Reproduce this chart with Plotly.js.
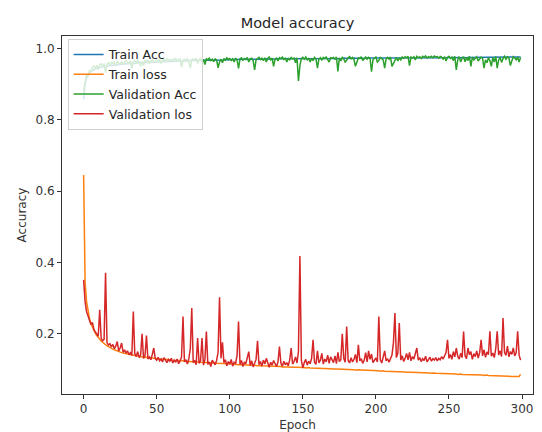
<!DOCTYPE html>
<html>
<head>
<meta charset="utf-8">
<script src="https://cdn.plot.ly/plotly-3.0.1.min.js"></script>
<style>html,body{margin:0;padding:0;background:#fff;}#chart{width:542px;height:432px;}</style>
</head>
<body>
<div id="chart"></div>
<script>
const chartTitle = "Model accuracy";
const xTitle = "Epoch";
const yTitle = "Accuracy";
const seriesNames = ["Train Acc", "Train loss", "Validation Acc", "Validation los"];
const xTickVals = [0, 50, 100, 150, 200, 250, 300];
const yTickVals = [0.2, 0.4, 0.6, 0.8, 1.0];

const trainAcc = [
0.858,0.900,0.916,0.925,0.931,0.935,0.938,0.941,0.943,0.945,
0.946,0.947,0.948,0.949,0.950,0.950,0.951,0.952,0.952,0.953,
0.953,0.954,0.954,0.955,0.955,0.955,0.956,0.956,0.957,0.957,
0.957,0.958,0.958,0.958,0.958,0.959,0.959,0.959,0.960,0.960,
0.960,0.960,0.960,0.961,0.961,0.961,0.961,0.962,0.962,0.962,
0.962,0.962,0.963,0.963,0.963,0.963,0.963,0.963,0.964,0.964,
0.964,0.964,0.964,0.964,0.965,0.965,0.965,0.965,0.965,0.965,
0.965,0.965,0.966,0.966,0.966,0.966,0.966,0.966,0.966,0.967,
0.967,0.967,0.966,0.967,0.967,0.967,0.967,0.968,0.967,0.968,
0.968,0.968,0.967,0.968,0.968,0.968,0.968,0.969,0.968,0.968,
0.969,0.969,0.968,0.969,0.969,0.969,0.969,0.969,0.970,0.969,
0.969,0.970,0.969,0.970,0.970,0.970,0.969,0.970,0.970,0.970,
0.970,0.970,0.970,0.970,0.970,0.971,0.970,0.970,0.971,0.970,
0.971,0.970,0.971,0.971,0.970,0.971,0.971,0.971,0.971,0.970,
0.971,0.971,0.971,0.970,0.971,0.971,0.971,0.972,0.971,0.971,
0.971,0.972,0.971,0.971,0.972,0.971,0.972,0.971,0.972,0.971,
0.972,0.971,0.972,0.972,0.971,0.972,0.972,0.972,0.971,0.972,
0.972,0.972,0.972,0.971,0.972,0.972,0.972,0.972,0.973,0.972,
0.972,0.972,0.973,0.972,0.972,0.973,0.972,0.972,0.972,0.973,
0.972,0.973,0.972,0.973,0.973,0.972,0.973,0.972,0.973,0.973,
0.973,0.972,0.973,0.973,0.973,0.973,0.972,0.973,0.973,0.973,
0.973,0.973,0.973,0.974,0.973,0.973,0.973,0.973,0.973,0.973,
0.974,0.973,0.973,0.974,0.973,0.974,0.973,0.974,0.973,0.974,
0.973,0.974,0.974,0.973,0.974,0.974,0.974,0.973,0.974,0.974,
0.974,0.974,0.974,0.974,0.973,0.974,0.974,0.974,0.974,0.975,
0.974,0.974,0.974,0.975,0.974,0.974,0.975,0.974,0.974,0.975,
0.974,0.975,0.974,0.975,0.975,0.974,0.975,0.975,0.974,0.975,
0.975,0.975,0.974,0.975,0.975,0.975,0.975,0.974,0.975,0.975,
0.975,0.975,0.975,0.975,0.976,0.975,0.975,0.975,0.975,0.976,
0.975,0.975,0.976,0.975,0.976,0.975,0.976,0.975,0.976,0.976
];

const trainLoss = [
0.645,0.345,0.290,0.262,0.243,0.229,0.218,0.209,0.201,0.195,
0.189,0.184,0.180,0.176,0.172,0.169,0.166,0.164,0.161,0.159,
0.157,0.155,0.153,0.152,0.150,0.149,0.147,0.146,0.145,0.144,
0.143,0.142,0.141,0.140,0.139,0.139,0.138,0.137,0.137,0.136,
0.135,0.135,0.134,0.134,0.133,0.133,0.132,0.132,0.131,0.131,
0.130,0.130,0.129,0.129,0.129,0.128,0.128,0.127,0.127,0.127,
0.126,0.126,0.126,0.125,0.125,0.125,0.124,0.124,0.124,0.123,
0.123,0.123,0.122,0.122,0.122,0.122,0.121,0.121,0.121,0.120,
0.120,0.120,0.120,0.119,0.119,0.119,0.119,0.118,0.118,0.118,
0.118,0.117,0.117,0.117,0.117,0.116,0.116,0.116,0.116,0.115,
0.115,0.116,0.115,0.114,0.115,0.114,0.113,0.114,0.113,0.113,
0.113,0.112,0.113,0.112,0.111,0.112,0.112,0.111,0.111,0.110,
0.111,0.111,0.110,0.110,0.109,0.110,0.110,0.109,0.109,0.109,
0.109,0.108,0.109,0.108,0.108,0.108,0.107,0.108,0.107,0.107,
0.107,0.107,0.106,0.107,0.106,0.106,0.106,0.105,0.106,0.106,
0.105,0.105,0.104,0.105,0.105,0.104,0.104,0.104,0.103,0.104,
0.104,0.103,0.103,0.103,0.102,0.103,0.103,0.102,0.102,0.102,
0.101,0.102,0.101,0.101,0.101,0.100,0.101,0.100,0.100,0.100,
0.100,0.099,0.100,0.099,0.099,0.099,0.098,0.099,0.098,0.099,
0.098,0.098,0.097,0.098,0.097,0.097,0.097,0.096,0.097,0.097,
0.096,0.096,0.096,0.095,0.096,0.096,0.095,0.095,0.094,0.095,
0.095,0.094,0.094,0.094,0.093,0.094,0.094,0.093,0.093,0.093,
0.093,0.092,0.093,0.092,0.092,0.092,0.091,0.092,0.092,0.091,
0.091,0.091,0.090,0.091,0.091,0.090,0.090,0.090,0.089,0.090,
0.090,0.089,0.089,0.089,0.089,0.088,0.089,0.088,0.088,0.088,
0.088,0.087,0.088,0.087,0.087,0.087,0.086,0.087,0.087,0.086,
0.086,0.086,0.085,0.086,0.086,0.085,0.085,0.085,0.084,0.085,
0.085,0.084,0.084,0.084,0.083,0.084,0.084,0.083,0.083,0.083,
0.083,0.082,0.083,0.082,0.082,0.082,0.081,0.082,0.082,0.081,
0.081,0.081,0.080,0.081,0.080,0.080,0.079,0.080,0.080,0.086
];

const valAcc = [
0.880,0.912,0.928,0.921,0.939,0.934,0.946,0.951,0.944,0.953,
0.941,0.955,0.957,0.949,0.958,0.932,0.956,0.960,0.954,0.961,
0.958,0.962,0.951,0.963,0.960,0.957,0.964,0.955,0.962,0.966,
0.961,0.958,0.965,0.944,0.963,0.966,0.960,0.967,0.962,0.950,
0.964,0.952,0.967,0.962,0.968,0.957,0.965,0.969,0.961,0.966,
0.968,0.963,0.970,0.958,0.967,0.969,0.964,0.971,0.966,0.969,
0.963,0.970,0.967,0.972,0.965,0.969,0.971,0.948,0.968,0.970,
0.966,0.972,0.962,0.945,0.969,0.971,0.967,0.973,0.958,0.970,
0.972,0.962,0.969,0.955,0.971,0.968,0.973,0.966,0.970,0.963,
0.971,0.968,0.946,0.962,0.970,0.960,0.972,0.967,0.974,0.969,
0.972,0.966,0.971,0.962,0.973,0.968,0.944,0.971,0.974,0.967,
0.972,0.969,0.975,0.962,0.971,0.973,0.966,0.940,0.968,0.972,
0.975,0.969,0.973,0.966,0.974,0.962,0.972,0.976,0.968,0.973,
0.950,0.970,0.973,0.965,0.974,0.971,0.976,0.969,0.974,0.962,
0.972,0.968,0.975,0.971,0.973,0.960,0.974,0.909,0.952,0.972,
0.975,0.970,0.976,0.968,0.973,0.962,0.972,0.966,0.975,0.971,
0.945,0.970,0.974,0.967,0.975,0.972,0.976,0.969,0.962,0.974,
0.973,0.975,0.970,0.976,0.936,0.974,0.965,0.975,0.971,0.961,
0.968,0.974,0.977,0.971,0.975,0.969,0.950,0.966,0.974,0.972,
0.977,0.966,0.973,0.976,0.970,0.975,0.972,0.935,0.969,0.974,
0.976,0.962,0.966,0.975,0.972,0.968,0.945,0.971,0.975,0.970,
0.976,0.950,0.958,0.968,0.975,0.965,0.974,0.968,0.976,0.972,
0.977,0.974,0.978,0.952,0.976,0.973,0.977,0.968,0.978,0.974,
0.977,0.972,0.978,0.975,0.979,0.973,0.977,0.975,0.978,0.974,
0.979,0.976,0.977,0.973,0.978,0.976,0.970,0.977,0.965,0.975,
0.978,0.972,0.976,0.966,0.978,0.940,0.968,0.977,0.962,0.972,
0.977,0.963,0.975,0.966,0.978,0.950,0.976,0.968,0.974,0.977,
0.965,0.972,0.976,0.972,0.945,0.968,0.960,0.974,0.966,0.950,
0.975,0.962,0.978,0.945,0.968,0.975,0.961,0.972,0.978,0.970,
0.976,0.974,0.952,0.965,0.977,0.973,0.968,0.976,0.962,0.975
];

const valLoss = [
0.351,0.290,0.262,0.250,0.238,0.226,0.232,0.212,0.205,0.198,
0.193,0.267,0.188,0.180,0.184,0.371,0.175,0.168,0.172,0.163,
0.170,0.158,0.165,0.178,0.152,0.160,0.174,0.148,0.155,0.146,
0.152,0.141,0.147,0.139,0.262,0.144,0.136,0.150,0.133,0.140,
0.200,0.131,0.138,0.195,0.129,0.135,0.127,0.142,0.160,0.130,
0.126,0.134,0.124,0.129,0.121,0.133,0.125,0.119,0.128,0.123,
0.131,0.118,0.126,0.120,0.129,0.116,0.124,0.135,0.248,0.121,
0.127,0.115,0.130,0.158,0.272,0.119,0.125,0.113,0.188,0.117,
0.124,0.188,0.112,0.128,0.206,0.114,0.121,0.108,0.126,0.118,
0.113,0.125,0.148,0.302,0.131,0.176,0.119,0.127,0.110,0.122,
0.115,0.128,0.109,0.120,0.117,0.139,0.234,0.114,0.125,0.108,
0.121,0.116,0.130,0.150,0.111,0.124,0.107,0.119,0.128,0.180,
0.113,0.122,0.109,0.126,0.115,0.131,0.118,0.106,0.120,0.112,
0.125,0.114,0.108,0.121,0.164,0.117,0.109,0.123,0.113,0.119,
0.110,0.126,0.160,0.115,0.122,0.135,0.118,0.150,0.418,0.125,
0.104,0.119,0.128,0.112,0.123,0.116,0.131,0.183,0.120,0.114,
0.152,0.118,0.126,0.145,0.115,0.129,0.121,0.140,0.117,0.135,
0.124,0.119,0.138,0.116,0.148,0.122,0.127,0.200,0.131,0.120,
0.220,0.125,0.118,0.133,0.121,0.128,0.142,0.119,0.169,0.124,
0.130,0.117,0.126,0.147,0.121,0.152,0.128,0.143,0.119,0.125,
0.132,0.121,0.248,0.127,0.118,0.135,0.152,0.124,0.130,0.120,
0.128,0.140,0.175,0.258,0.133,0.145,0.230,0.126,0.138,0.122,
0.131,0.145,0.127,0.148,0.124,0.136,0.129,0.142,0.160,0.126,
0.133,0.122,0.130,0.125,0.137,0.121,0.128,0.134,0.123,0.130,
0.126,0.133,0.124,0.131,0.127,0.136,0.129,0.140,0.147,0.183,
0.131,0.142,0.128,0.150,0.135,0.160,0.137,0.129,0.145,0.133,
0.206,0.138,0.130,0.160,0.141,0.150,0.128,0.144,0.136,0.152,
0.132,0.147,0.183,0.138,0.155,0.134,0.149,0.141,0.207,0.137,
0.146,0.133,0.158,0.207,0.140,0.152,0.136,0.244,0.148,0.139,
0.165,0.135,0.150,0.142,0.160,0.138,0.147,0.207,0.140,0.126
];

const epochs = trainAcc.map((_, i) => i);
const colors = ["#1f77b4", "#ff7f0e", "#2ca02c", "#d62728"];
const seriesData = [trainAcc, trainLoss, valAcc, valLoss];

const traces = seriesData.map((ys, k) => ({
  type: "scatter",
  mode: "lines",
  x: epochs,
  y: ys,
  name: seriesNames[k],
  legendgroup: "g" + k,
  line: { color: colors[k], width: 1.5 },
  hoverinfo: "skip"
}));

const fontFam = "DejaVu Sans, sans-serif";
const layout = {
  width: 542,
  height: 432,
  margin: { l: 62, r: 9, t: 36, b: 38, pad: 0 },
  paper_bgcolor: "#ffffff",
  plot_bgcolor: "#ffffff",
  font: { family: fontFam, size: 12, color: "#262626" },
  showlegend: true,
  title: {
    text: chartTitle,
    font: { family: fontFam, size: 14.5, color: "#262626" },
    xref: "paper", x: 0.5, xanchor: "center",
    yref: "container", y: 0.948, yanchor: "middle"
  },
  xaxis: {
    range: [-14.8, 307.5],
    tickvals: xTickVals,
    ticktext: xTickVals.map(String),
    ticks: "outside", ticklen: 4, tickwidth: 1, tickcolor: "#333",
    showline: true, linecolor: "#333", linewidth: 1, mirror: true,
    showgrid: false, zeroline: false,
    tickfont: { family: fontFam, size: 12, color: "#333" },
    title: { text: xTitle, font: { family: fontFam, size: 12, color: "#333" }, standoff: 10 },
    automargin: false
  },
  yaxis: {
    range: [0.031, 1.035],
    tickvals: yTickVals,
    ticktext: yTickVals.map(v => v.toFixed(1)),
    ticks: "outside", ticklen: 4, tickwidth: 1, tickcolor: "#333",
    showline: true, linecolor: "#333", linewidth: 1, mirror: true,
    showgrid: false, zeroline: false,
    tickfont: { family: fontFam, size: 12, color: "#333" },
    title: { text: yTitle, font: { family: fontFam, size: 12, color: "#333" }, standoff: 6 },
    automargin: false
  },
  legend: {
    x: 0.012, y: 0.992, xanchor: "left", yanchor: "top",
    bgcolor: "rgba(255,255,255,0.8)",
    bordercolor: "#d0d0d0", borderwidth: 1,
    font: { family: fontFam, size: 12.5, color: "#262626" },
    tracegroupgap: 0.5,
    itemclick: false
  }
};

Plotly.newPlot("chart", traces, layout, { displayModeBar: false, staticPlot: true });
</script>
</body>
</html>
